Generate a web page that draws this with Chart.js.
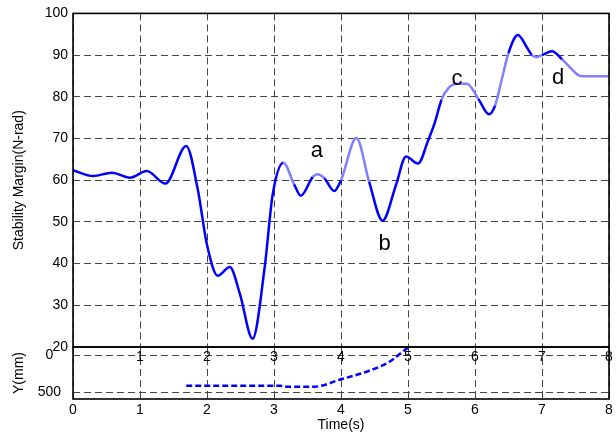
<!DOCTYPE html>
<html>
<head>
<meta charset="utf-8">
<script src="https://cdn.jsdelivr.net/npm/chart.js@4/dist/chart.umd.min.js"></script>
<style>
  body { margin: 0; background: #fff; }
  #wrap { position: relative; width: 616px; height: 439px; }
  #wrap canvas { position: absolute; left: 0; top: 0; }
</style>
</head>
<body>
<div id="wrap">
  <canvas id="lowerChart" width="616" height="439"></canvas>
  <canvas id="upperChart" width="616" height="439"></canvas>
</div>
<script>
// Stability margin vs time (upper panel)
const marginTimes = [0, 0.3, 0.58, 0.85, 1.1, 1.38, 1.69, 1.86, 2.0, 2.16, 2.34, 2.49, 2.68, 2.86, 2.98,
    3.14, 3.3, 3.4, 3.58, 3.65, 3.75, 3.9, 4.0, 4.23, 4.42, 4.62, 4.82, 4.97, 5.15, 5.3, 5.4, 5.5, 5.6,
    5.73, 5.88, 6.05, 6.21, 6.3, 6.4, 6.5, 6.64, 6.78, 6.85, 6.92, 7.0, 7.15, 7.3, 7.45, 7.57, 7.7, 8];
const marginValues = [62.4, 61.0, 61.8, 60.6, 62.2, 59.2, 68.2, 58.0, 44.5, 37.1, 39.2, 32.8, 22.0, 39.0, 56.5,
    64.2, 59.0, 56.3, 60.8, 61.4, 60.5, 57.4, 60.0, 70.1, 59.6, 50.3, 58.8, 65.7, 64.0, 69.5, 73.8, 79.3, 82.0,
    83.1, 83.1, 79.5, 75.8, 77.9, 84.2, 90.5, 94.8, 91.7, 90.0, 89.5, 90.0, 90.9, 89.0, 86.5, 85.0, 84.9, 84.9];
// time spans where the curve is drawn in the lighter blue
const lightSpans = [[3.14, 3.3], [3.58, 3.75], [4.0, 4.42], [5.5, 6.05], [6.3, 6.5], [6.85, 7.0], [7.3, 8]];

// letters marked on the curve
const markLabels = ['a', 'b', 'c', 'd'];
const markTimes = [3.64, 4.65, 5.73, 7.24];
const markValues = [67.1, 44.6, 84.3, 84.6];

// Y displacement vs time (lower panel)
const yTimes = [1.69, 3.08, 3.2, 3.6, 4.0, 4.42, 4.72, 5.0];
const yValues = [411, 411, 424, 424, 325, 210, 90, -105];

const xTicks = [0, 1, 2, 3, 4, 5, 6, 7, 8];
const marginTicks = [20, 30, 40, 50, 60, 70, 80, 90, 100];
const yTickValues = [0, 500];

Chart.defaults.font.family = "'Liberation Sans', Arial, sans-serif";
Chart.defaults.font.size = 14;
Chart.defaults.color = '#000';
Chart.defaults.animation = false;

const DARK = '#0000ff';
const LIGHT = '#8080ff';
const gridStyle = { color: '#444', lineWidth: 1, drawTicks: false };
const dash = { dash: [7, 4] };

const framePlugin = {
    id: 'frame',
    afterDraw(chart) {
        const a = chart.chartArea, ctx = chart.ctx;
        ctx.save();
        ctx.strokeStyle = '#000';
        ctx.lineWidth = 1.6;
        ctx.strokeRect(a.left, a.top, a.right - a.left, a.bottom - a.top);
        ctx.restore();
    }
};

const marksPlugin = {
    id: 'marks',
    afterDatasetsDraw(chart) {
        const ctx = chart.ctx;
        ctx.save();
        ctx.font = "22px 'Liberation Sans', Arial, sans-serif";
        ctx.fillStyle = '#000';
        ctx.textAlign = 'center';
        ctx.textBaseline = 'middle';
        markLabels.forEach((txt, i) => {
            ctx.fillText(txt, chart.scales.x.getPixelForValue(markTimes[i]),
                chart.scales.y.getPixelForValue(markValues[i]));
        });
        ctx.restore();
    }
};

function isLight(t0, t1) {
    const mid = (t0 + t1) / 2;
    return lightSpans.some(s => mid >= s[0] && mid <= s[1]);
}

// upper panel
new Chart(document.getElementById('upperChart'), {
    type: 'line',
    data: {
        datasets: [{
            data: marginTimes.map((t, i) => ({ x: t, y: marginValues[i] })),
            borderColor: DARK,
            borderWidth: 2.5,
            pointRadius: 0,
            cubicInterpolationMode: 'monotone',
            segment: {
                borderColor: c => isLight(c.p0.parsed.x, c.p1.parsed.x) ? LIGHT : DARK
            }
        }]
    },
    options: {
        responsive: false,
        layout: { padding: { top: 10, right: 7, left: 0, bottom: 0 } },
        plugins: { legend: { display: false }, tooltip: { enabled: false } },
        scales: {
            x: {
                type: 'linear', min: 0, max: 8,
                afterBuildTicks: s => { s.ticks = xTicks.map(v => ({ value: v })); },
                afterFit: s => { s.height = 92; },
                ticks: { padding: 2, maxRotation: 0, callback: v => v === 0 ? '' : v },
                grid: gridStyle, border: { display: false, ...dash }
            },
            y: {
                min: 20, max: 100,
                afterBuildTicks: s => { s.ticks = marginTicks.map(v => ({ value: v })); },
                afterFit: s => { s.width = 73; },
                ticks: { padding: 5 },
                grid: gridStyle, border: { display: false, ...dash },
                title: { display: true, text: 'Stability Margin(N-rad)', padding: { top: 11, bottom: 0 } }
            }
        }
    },
    plugins: [framePlugin, marksPlugin]
});

// lower panel
new Chart(document.getElementById('lowerChart'), {
    type: 'line',
    data: {
        datasets: [{
            data: yTimes.map((t, i) => ({ x: t, y: yValues[i] })),
            borderColor: DARK,
            borderWidth: 2.5,
            borderDash: [6, 3],
            pointRadius: 0,
            cubicInterpolationMode: 'monotone'
        }]
    },
    options: {
        responsive: false,
        layout: { padding: { top: 347, right: 7, left: 0, bottom: 0 } },
        plugins: { legend: { display: false }, tooltip: { enabled: false } },
        scales: {
            x: {
                type: 'linear', min: 0, max: 8,
                afterBuildTicks: s => { s.ticks = xTicks.map(v => ({ value: v })); },
                afterFit: s => { s.height = 40; },
                ticks: { padding: 3, maxRotation: 0 },
                grid: gridStyle, border: { display: false, ...dash },
                title: { display: true, text: 'Time(s)', padding: { top: 0, bottom: 5 } }
            },
            y: {
                reverse: true, min: -110, max: 590,
                afterBuildTicks: s => { s.ticks = yTickValues.map(v => ({ value: v })); },
                afterFit: s => { s.width = 73; },
                ticks: { padding: 12, crossAlign: 'center' },
                grid: gridStyle, border: { display: false, ...dash },
                title: { display: true, text: 'Y(mm)', padding: { top: 11, bottom: 0 } }
            }
        }
    },
    plugins: [framePlugin]
});
</script>
</body>
</html>
